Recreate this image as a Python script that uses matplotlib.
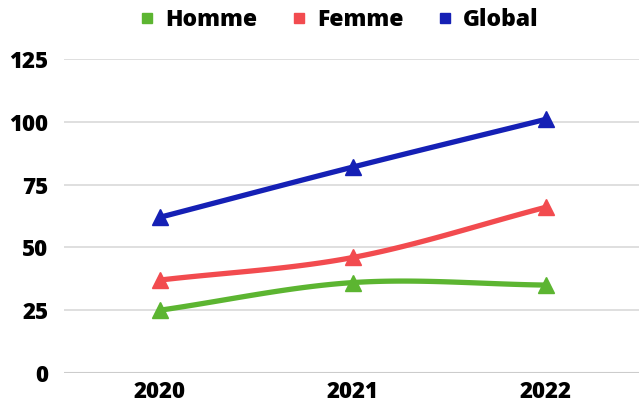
import numpy as np
import matplotlib
matplotlib.use("Agg")
import matplotlib.pyplot as plt
from matplotlib.lines import Line2D

years = ["2020", "2021", "2022"]
homme = [25, 36, 35]
femme = [37, 46, 66]
glob = [62, 82, 101]
series = [("Homme", homme, "#5cb531"), ("Femme", femme, "#f24b4f"), ("Global", glob, "#1520b5")]
yticks = [0, 25, 50, 75, 100, 125]

plt.rcParams['font.family'] = ['Open Sans', 'DejaVu Sans']

def smooth(x, y, n=60):
    x = np.asarray(x, float); y = np.asarray(y, float)
    px = np.concatenate([[2*x[0]-x[1]], x, [2*x[-1]-x[-2]]])
    py = np.concatenate([[2*y[0]-y[1]], y, [2*y[-1]-y[-2]]])
    xs, ys = [], []
    for i in range(1, len(px)-2):
        t = np.linspace(0, 1, n)
        f = lambda a0, a1, a2, a3: 0.5*((2*a1) + (-a0+a2)*t + (2*a0-5*a1+4*a2-a3)*t**2 + (-a0+3*a1-3*a2+a3)*t**3)
        xs.append(f(px[i-1], px[i], px[i+1], px[i+2])); ys.append(f(py[i-1], py[i], py[i+1], py[i+2]))
    return np.concatenate(xs), np.concatenate(ys)

W = 800
fig = plt.figure(figsize=(6.39, 4.07), dpi=100)
ax = fig.add_axes([63.5/639, 1-373/407, (642.5-63.5)/639, (373-59)/407])
x = np.arange(len(years))
for name, vals, col in series:
    sx, sy = smooth(x, vals)
    ax.plot(sx, sy, color=col, lw=3.8, solid_capstyle='round', zorder=3)
    ax.plot(x, vals, linestyle='none', marker='^', markersize=11, color=col, zorder=4)

ax.set_xlim(-0.5, 2.5)
ax.set_ylim(0, 125)
ax.set_yticks(yticks)
ax.set_xticks(x)
ax.set_xticklabels(years)
ax.grid(axis='y', color='#d9d9d9', lw=1.2)
ax.set_axisbelow(True)
for s in ax.spines.values():
    s.set_visible(False)
ax.tick_params(length=0, labelsize=16, pad=5)
ax.tick_params(axis='y', pad=11)
for lab in ax.get_xticklabels() + ax.get_yticklabels():
    lab.set_fontweight(W)
ax.axhline(0, color='#cccccc', lw=1.5, zorder=2)

handles = [Line2D([], [], linestyle='none', marker='s', markersize=7, color=c) for _, _, c in series]
fig.legend(handles, [n for n, _, _ in series], loc='center', bbox_to_anchor=(337/639, 1-20/407),
           ncol=3, frameon=False, prop={'weight': W, 'size': 16.5}, handletextpad=0.3,
           columnspacing=1.3, handlelength=1.0)

fig.savefig("out.png", dpi=100)
